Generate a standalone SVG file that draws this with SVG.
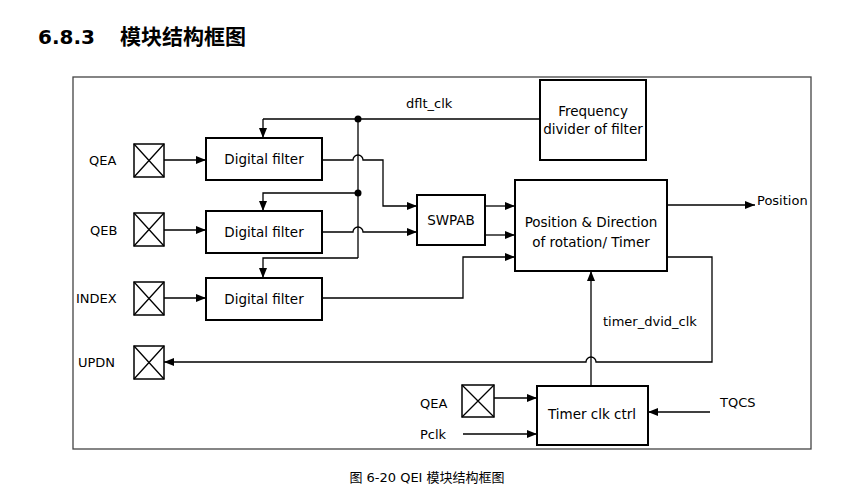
<svg xmlns="http://www.w3.org/2000/svg" width="855" height="502" viewBox="0 0 855 502">
<defs>
<marker id="ar" markerWidth="10" markerHeight="8" refX="10" refY="4" orient="auto" markerUnits="userSpaceOnUse"><path d="M0,0 L10,4 L0,8 z" fill="#000"/></marker>
<style>
.b{fill:#fff;stroke:#000;stroke-width:2}
.c{fill:#fff;stroke:#000;stroke-width:1.5}
.l{fill:none;stroke:#000;stroke-width:1.3}
.a{fill:none;stroke:#000;stroke-width:1.3;marker-end:url(#ar)}
text{font-family:"DejaVu Sans","Noto Sans CJK SC",sans-serif;font-size:13px;fill:#000}
.t{font-size:13.5px}
</style>
</defs>
<rect width="855" height="502" fill="#fff"/>
<text x="38" y="44" style="font-size:20px;font-weight:bold">6.8.3</text>
<text x="120" y="44" style="font-size:21px;font-weight:bold">模块结构框图</text>
<rect x="73" y="77" width="738" height="372" fill="none" stroke="#444" stroke-width="1.3"/>
<g id="connectors">
<path class="l" d="M540,119 H263"/><path class="a" d="M263,119 V138"/>
<path class="l" d="M358,119 V258"/>
<path class="a" d="M358,193 H263 V211"/>
<path class="a" d="M358,258 H263 V278"/>
<circle cx="358" cy="119" r="3.5"/><circle cx="358" cy="193" r="3.5"/>
<path class="a" d="M164,160 H206"/><path class="a" d="M164,230 H206"/><path class="a" d="M164,298 H206"/>
<path class="a" d="M322,160 H353 A5,5 0 0 1 363,160 H383 V206 H417"/>
<path class="a" d="M322,232 H353 A5,5 0 0 1 363,232 H417"/>
<path class="a" d="M485,206 H515"/><path class="a" d="M485,235 H515"/>
<path class="a" d="M322,298 H463 V257 H515"/>
<path class="a" d="M667,205 H755"/>
<path class="a" d="M667,257 H712 V362 H596 A5,5 0 0 0 586,362 H164"/>
<path class="a" d="M591,386 V271"/>
<path class="a" d="M494,398 H537"/>
<path class="a" d="M463,434 H537"/>
<path class="a" d="M710,412 H648"/>
</g>
<g id="chips">
<g id="QEA"><rect class="c" x="134" y="144" width="30" height="33"/><path class="l" d="M134,144 L164,177 M164,144 L134,177"/></g>
<g id="QEB"><rect class="c" x="134" y="213" width="30" height="33"/><path class="l" d="M134,213 L164,246 M164,213 L134,246"/></g>
<g id="INDEX"><rect class="c" x="134" y="282" width="30" height="33"/><path class="l" d="M134,282 L164,315 M164,282 L134,315"/></g>
<g id="UPDN"><rect class="c" x="134" y="346" width="30" height="33"/><path class="l" d="M134,346 L164,379 M164,346 L134,379"/></g>
<g id="QEA2"><rect class="c" x="462" y="385" width="32" height="32"/><path class="l" d="M462,385 L494,417 M494,385 L462,417"/></g>
</g>
<text x="89" y="165">QEA</text><text x="90" y="235">QEB</text><text x="76" y="303">INDEX</text><text x="78" y="367">UPDN</text>
<text x="420" y="408">QEA</text><text x="420" y="439">Pclk</text><text x="720" y="407">TQCS</text>
<text x="406" y="108">dflt_clk</text><text x="603" y="326">timer_dvid_clk</text><text x="757" y="205">Position</text>
<g id="f1"><rect class="b" x="206" y="138" width="116" height="42"/><text class="t" x="264" y="164" text-anchor="middle">Digital filter</text></g>
<g id="f2"><rect class="b" x="206" y="211" width="116" height="42"/><text class="t" x="264" y="237" text-anchor="middle">Digital filter</text></g>
<g id="f3"><rect class="b" x="206" y="278" width="116" height="42"/><text class="t" x="264" y="304" text-anchor="middle">Digital filter</text></g>
<g id="swpab"><rect class="b" x="417" y="195" width="68" height="50"/><text class="t" x="451" y="225" text-anchor="middle">SWPAB</text></g>
<g id="pos"><rect class="b" x="515" y="180" width="152" height="91"/><text class="t" x="591" y="227" text-anchor="middle">Position &amp; Direction</text><text class="t" x="591" y="247" text-anchor="middle">of rotation/ Timer</text></g>
<g id="freq"><rect class="b" x="540" y="80" width="106" height="80"/><text class="t" x="593" y="116" text-anchor="middle">Frequency</text><text class="t" x="593" y="134" text-anchor="middle">divider of filter</text></g>
<g id="tclk"><rect class="b" x="537" y="386" width="111" height="59"/><text class="t" x="592" y="419" text-anchor="middle">Timer clk ctrl</text></g>
<text x="427" y="482" text-anchor="middle" style="font-size:13px">图 6-20 QEI 模块结构框图</text>
</svg>
